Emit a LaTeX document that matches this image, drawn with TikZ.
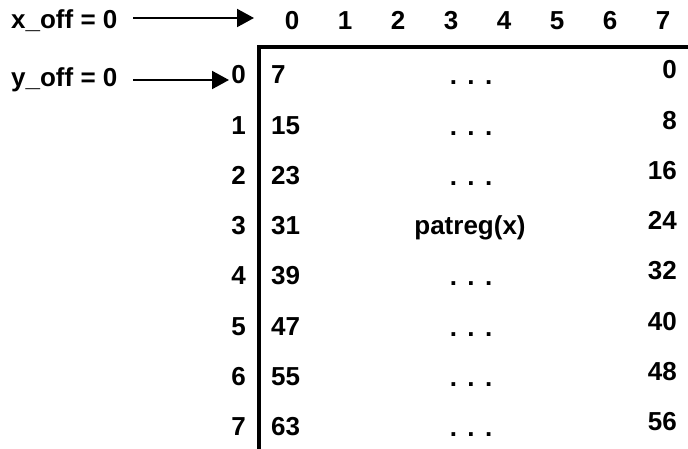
\documentclass[tikz,border=0pt]{standalone}
\usepackage{fontspec}
\setmainfont{Liberation Sans}
\usetikzlibrary{arrows.meta}
\tikzset{ptrtip/.tip={Triangle[length=17pt,width=18pt]}}
\begin{document}
\begin{tikzpicture}[x=1pt,y=-1pt,
  lbl/.style={font=\fontsize{26}{26}\selectfont\bfseries, inner sep=0pt},
  hdr/.style={lbl, anchor=base},
  rowlbl/.style={lbl, anchor=base east},
  lval/.style={lbl, anchor=base west},
  rval/.style={lbl, anchor=base east},
  mid/.style={lbl, anchor=base},
  ptr/.style={line width=2pt, -ptrtip},
  frame/.style={line width=4pt}]
\useasboundingbox (0,0) rectangle (688,449);

% offset labels
\node[lbl, anchor=base west] (xoff) at (11,29) {x\_off = 0};
\node[lbl, anchor=base west] (yoff) at (11,87) {y\_off = 0};

% column indices
\foreach \c in {0,...,7}
  \node[hdr] (c\c) at ({292+53*\c},30) {\c};

% frame of the pattern register
\coordinate (corner) at (258.5,47);
\coordinate (topend) at (688,47);
\coordinate (botend) at (258.5,449);
\draw[frame] (botend) -- (corner) -- (topend);

% rows: index, first bit, middle, last bit
\foreach \r/\first/\last in {0/7/0,1/15/8,2/23/16,3/31/24,4/39/32,5/47/40,6/55/48,7/63/56}{
  \pgfmathsetmacro{\yb}{84+50.2*\r}
  \node[rowlbl] (r\r) at (246,\yb) {\r};
  \node[lval] (f\r) at (271,\yb) {\first};
  \node[rval] (l\r) at (677,\yb-5) {\last};
}
\foreach \r in {0,1,2,4,5,6,7}{
  \pgfmathsetmacro{\yb}{85+50.2*\r}
  \node[mid] (m\r) at (471,\yb) {.\hspace{0.4em}.\hspace{0.4em}.};
}
\node[mid] (m3) at (470,84+50.2*3) {patreg(x)};

% offset pointers
\coordinate (xs) at (133,18);
\coordinate (xe) at (254,18);
\coordinate (ys) at (133,80);
\coordinate (ye) at (229,80);
\draw[ptr] (xs) -- (xe);
\draw[ptr] (ys) -- (ye);
\end{tikzpicture}
\end{document}
